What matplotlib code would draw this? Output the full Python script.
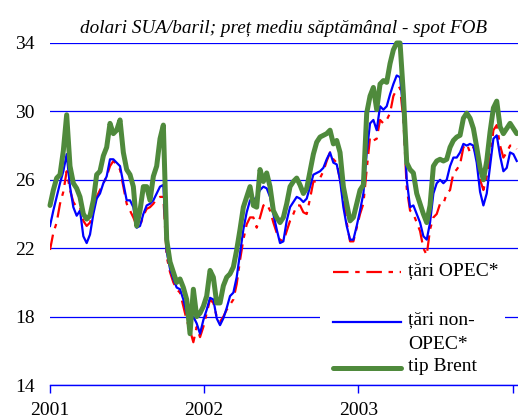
import matplotlib
matplotlib.use("Agg")
import matplotlib.pyplot as plt
import pandas as pd
from matplotlib.patches import Rectangle

plt.rcParams["font.family"] = ["Liberation Serif", "DejaVu Serif"]

# weekly observations, Jan 2001 - mid Jan 2004
weeks = pd.date_range("2001-01-01", "2004-01-11", periods=141)

brent = [24.5, 25.4, 26.1, 26.3, 27.7, 29.8, 26.8, 25.8, 25.5, 25.0,
         24.0, 23.7, 23.9, 24.8, 26.3, 26.5, 27.4, 27.9, 29.3, 28.7,
         28.9, 29.5, 27.6, 26.6, 26.3, 25.6, 23.3, 24.2, 25.6, 25.6,
         24.8, 26.2, 26.8, 28.4, 29.2, 22.5, 21.2, 20.6, 20.0, 20.2,
         19.7, 19.0, 17.0, 19.6, 18.0, 18.2, 18.6, 19.2, 20.7, 20.3,
         18.8, 18.8, 19.8, 20.3, 20.5, 20.9, 21.9, 23.1, 24.4, 25.0,
         25.6, 24.5, 24.4, 26.6, 25.9, 26.4, 25.6, 24.2, 23.8, 23.5,
         23.8, 24.6, 25.6, 25.9, 26.1, 25.7, 25.2, 25.5, 26.5, 27.5,
         28.2, 28.5, 28.6, 28.7, 28.9, 28.1, 28.3, 27.6, 25.6, 24.6,
         23.6, 23.8, 24.6, 25.4, 25.7, 29.9, 30.9, 31.4, 30.1, 31.6,
         31.8, 31.7, 32.8, 33.6, 34.0, 34.0, 31.0, 27.0, 26.6, 26.4,
         25.2, 24.6, 24.0, 23.5, 24.5, 26.8, 27.1, 27.2, 27.1, 27.2,
         27.9, 28.3, 28.5, 28.6, 29.6, 29.9, 29.6, 29.0, 27.9, 26.7,
         26.0, 27.1, 28.8, 30.2, 30.6, 29.1, 28.7, 29.0, 29.3, 29.0,
         28.7]

non_opec = [23.3, 24.2, 25.0, 25.8, 26.5, 27.5, 25.6, 24.4, 23.9, 24.2,
            22.7, 22.3, 22.8, 24.0, 24.9, 25.2, 25.8, 26.2, 27.2, 27.2,
            27.0, 26.8, 25.8, 24.8, 24.8, 24.4, 23.2, 23.3, 24.0, 24.5,
            24.6, 24.8, 25.2, 25.6, 25.7, 21.8, 20.8, 20.2, 19.7, 19.6,
            19.0, 18.2, 17.6, 18.0, 17.6, 17.0, 17.8, 18.4, 19.1, 19.0,
            17.9, 17.5, 17.9, 18.5, 19.2, 19.4, 20.3, 21.7, 23.1, 24.1,
            24.8, 24.8, 25.0, 25.4, 25.6, 25.5, 25.0, 24.0, 23.1, 22.3,
            22.4, 23.6, 24.4, 24.7, 25.0, 24.9, 24.7, 24.9, 25.6, 26.3,
            26.4, 26.5, 26.7, 27.2, 27.6, 27.0, 26.9, 26.0, 24.4, 23.3,
            22.5, 22.5, 23.3, 24.2, 25.2, 27.6, 29.3, 29.5, 28.9, 30.3,
            30.1, 30.3, 31.0, 31.6, 32.1, 32.0, 30.0, 26.0, 24.4, 24.5,
            24.0, 23.5, 22.7, 22.5, 23.5, 25.2, 25.8, 26.0, 25.8, 26.0,
            26.8, 27.3, 27.3, 27.6, 28.1, 28.0, 28.1, 28.0, 27.0, 25.3,
            24.5, 25.2, 26.8, 28.4, 28.6, 27.4, 26.5, 26.7, 27.6, 27.5,
            27.1]

opec = [21.9, 22.9, 23.5, 24.6, 25.3, 26.5, 25.4, 24.7, 24.4, 24.4,
        23.6, 23.3, 23.5, 24.2, 25.0, 25.4, 25.8, 26.2, 26.8, 27.1,
        26.9, 26.6, 25.6, 24.6, 24.2, 23.8, 23.3, 23.3, 23.9, 24.3,
        24.4, 24.6, 24.9, 25.0, 25.0, 21.5, 20.6, 20.0, 19.6, 19.4,
        18.6, 17.8, 17.2, 16.5, 17.4, 16.8, 17.4, 18.2, 19.0, 18.8,
        18.0, 17.7, 18.0, 18.4, 18.7, 19.0, 19.9, 21.3, 22.5, 23.4,
        23.8, 23.8, 23.2, 23.8, 24.5, 24.6, 24.2, 23.5, 22.9, 22.5,
        22.4, 23.0, 23.6, 24.0, 24.5, 24.5, 24.1, 24.0, 24.9, 25.9,
        25.9, 26.1, 26.5, 27.1, 27.6, 27.2, 27.0, 26.0, 24.8, 23.5,
        22.4, 22.4, 23.2, 24.0, 24.6, 26.6, 28.5, 28.3, 28.4, 29.5,
        29.3, 29.5, 29.9, 30.9, 31.3, 31.4, 29.5, 25.5, 24.2, 24.0,
        23.5, 23.0, 22.0, 21.6, 23.1, 23.8, 24.0, 24.6, 24.6, 25.2,
        25.4, 26.4, 26.6, 26.9, 27.9, 28.1, 27.6, 27.9, 27.4, 26.0,
        25.4, 26.2, 27.2, 28.9, 29.2, 28.0, 27.3, 27.6, 28.0, 28.0,
        27.8]

year_ticks = pd.to_datetime(["2001-01-01", "2002-01-01", "2003-01-01", "2004-01-01"])
year_labels = ["2001", "2002", "2003", ""]
y_ticks = [14, 18, 22, 26, 30, 34]

RED, BLUE, GREEN = "#ff0000", "#0000ff", "#4f8a3c"
OPEC_DASH = (7, 3, 2, 3)

fig = plt.figure(figsize=(5.18, 4.18), dpi=100)
ax = fig.add_axes([50 / 518, 1 - 385 / 418, 1 - 50 / 518, (385 - 43) / 418])

ax.plot(weeks, opec, color=RED, lw=1.6, dashes=OPEC_DASH, zorder=3)
ax.plot(weeks, non_opec, color=BLUE, lw=1.6, zorder=4)
ax.plot(weeks, brent, color=GREEN, lw=3.6, zorder=5,
        solid_capstyle="round", clip_on=False)

ax.set_ylim(14, 34)
ax.set_xlim(pd.Timestamp("2001-01-01"), pd.Timestamp("2004-01-14"))
ax.set_yticks(y_ticks)
ax.set_yticklabels([str(v) for v in y_ticks], fontsize=14)
ax.set_xticks(year_ticks)
ax.set_xticklabels(year_labels, fontsize=14)

ax.grid(axis="y", color=BLUE, lw=0.9)
ax.set_axisbelow(True)
for side in ["top", "right", "left"]:
    ax.spines[side].set_visible(False)
ax.spines["bottom"].set_color(BLUE)
ax.spines["bottom"].set_linewidth(1.0)
ax.tick_params(axis="y", length=0, pad=11)
ax.tick_params(axis="x", direction="out", length=6, color=BLUE, width=1.0, pad=6)

ax.set_title("dolari SUA/baril; preț mediu săptămânal - spot FOB",
             fontsize=13.8, style="italic", pad=7)

# legend drawn by hand so the blue key sits on the first text line
tr = ax.transAxes
ax.add_patch(Rectangle((0.577, 0.003), 0.395, 0.375, transform=tr,
                       facecolor="white", edgecolor="none", zorder=8))
key_x = [0.605, 0.750]
ax.plot(key_x, [0.330, 0.330], transform=tr, color=RED, lw=1.6,
        dashes=OPEC_DASH, zorder=9)
ax.plot(key_x, [0.185, 0.185], transform=tr, color=BLUE, lw=1.6, zorder=9)
ax.plot(key_x, [0.050, 0.050], transform=tr, color=GREEN, lw=3.6,
        solid_capstyle="round", zorder=9)
ax.text(0.765, 0.335, "țări OPEC*", transform=tr, fontsize=14, va="center", zorder=9)
ax.text(0.765, 0.190, "țări non-", transform=tr, fontsize=14, va="center", zorder=9)
ax.text(0.765, 0.117, "OPEC*", transform=tr, fontsize=14, va="center", zorder=9)
ax.text(0.765, 0.055, "tip Brent", transform=tr, fontsize=14, va="center", zorder=9)

fig.savefig("out.png", dpi=100)
